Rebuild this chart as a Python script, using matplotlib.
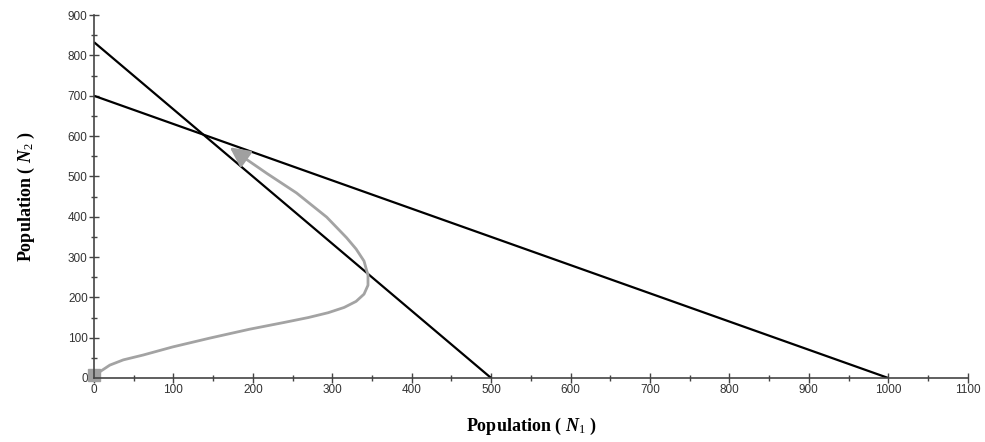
import matplotlib.pyplot as plt
import numpy as np

# isoclines (end points on the axes)
iso1_n1 = [0, 500]
iso1_n2 = [833, 0]
iso2_n1 = [0, 1000]
iso2_n2 = [700, 0]

# trajectory
traj_n1 = [0, 7, 20, 37, 62, 99, 146, 196, 240, 270, 295, 315, 330, 340, 345, 345, 340,
           330, 318, 293, 255, 218, 190, 171]
traj_n2 = [8, 15, 32, 45, 57, 77, 99, 121, 138, 150, 162, 175, 190, 208, 230, 255, 290,
           320, 348, 399, 459, 507, 545, 572]

plt.rcParams['mathtext.fontset'] = 'custom'
plt.rcParams['mathtext.rm'] = 'Liberation Serif'
plt.rcParams['mathtext.it'] = 'Liberation Serif:italic:bold'

fig = plt.figure(figsize=(9.85, 4.42), dpi=100)
ax = fig.add_axes([0.0954, 0.1448, 0.887, 0.821])

ax.plot(iso1_n1, iso1_n2, color='black', lw=1.6, solid_capstyle='butt')
ax.plot(iso2_n1, iso2_n2, color='black', lw=1.6, solid_capstyle='butt')
ax.plot(traj_n1[:-1], traj_n2[:-1], color='#a3a3a3', lw=2, solid_joinstyle='round')
ax.plot(traj_n1[0], traj_n2[0], marker='s', color='#a0a0a0', ms=8, clip_on=False)
# arrow head at the end of the trajectory
ax.annotate('', xy=(traj_n1[-1], traj_n2[-1]), xytext=(traj_n1[-2], traj_n2[-2]),
            arrowprops=dict(arrowstyle='-|>,head_length=1.2,head_width=0.6',
                            color='#a0a0a0', lw=2, shrinkA=0, shrinkB=0))

ax.set_xlim(0, 1100)
ax.set_ylim(0, 900)
ax.set_xticks(np.arange(0, 1101, 100))
ax.set_yticks(np.arange(0, 901, 100))
ax.set_xticks(np.arange(50, 1100, 100), minor=True)
ax.set_yticks(np.arange(50, 900, 100), minor=True)

for s in ['top', 'right']:
    ax.spines[s].set_visible(False)
for s in ['left', 'bottom']:
    ax.spines[s].set_color('#444444')
    ax.spines[s].set_linewidth(1.2)

ax.tick_params(which='both', direction='inout', color='#444444', width=1)
ax.tick_params(which='major', length=7, labelsize=8.5, labelcolor='#333333', pad=1)
ax.tick_params(which='minor', length=5)
for lab in ax.get_xticklabels() + ax.get_yticklabels():
    lab.set_family('Liberation Sans')

ax.set_xlabel(r'Population ( $\mathit{N}_1$ )', family='Liberation Serif',
              fontsize=13, fontweight='bold', labelpad=14)
ax.set_ylabel(r'Population ( $\mathit{N}_2$ )', family='Liberation Serif',
              fontsize=13, fontweight='bold', labelpad=22)

fig.savefig('out.png', dpi=100)
